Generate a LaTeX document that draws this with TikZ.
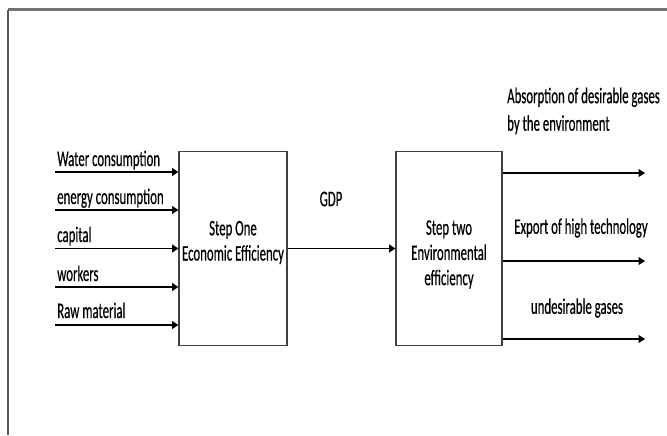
\documentclass[tikz,border=0pt]{standalone}
\usepackage{fontspec}
\setmainfont{Carlito}[FakeStretch=0.575, FakeBold=0.4]
\usetikzlibrary{positioning,arrows.meta,calc}

\begin{document}
\begin{tikzpicture}[x=0.03cm, y=-0.03cm,
  stage/.style={draw=black!75, line width=0.9pt, minimum width=3.24cm, minimum height=5.8cm},
  lbl/.style={inner sep=0pt, align=center, font=\fontsize{19}{21.5}\selectfont},
  arr/.style={line width=1.5pt, -{Triangle[length=1.9mm, width=2.3mm]}}]
\useasboundingbox (0,0) rectangle (667,435);
% page frame
\draw[black!55, line width=2.4pt] (8,9.5) -- (667,9.5);
\draw[black!65, line width=1.1pt] (8,9.5) -- (8,435);
% the two stages
\node[stage] (s1) at (233,248.5) {};
\node[stage, minimum width=3.18cm] (s2) at (449,248.5) {};
\node[lbl] (t1) at ($(s1.center)+(0,-6)$) {Step One\\Economic Efficiency};
\node[lbl] (t2) at ($(s2.center)+(0,6)$) {Step two\\Environmental\\efficiency};
% inputs
\coordinate (i1) at (55,172); \coordinate (i2) at (55,210); \coordinate (i3) at (55,248.5);
\coordinate (i4) at (55,287); \coordinate (i5) at (55,325);
\draw[arr] (i1) -- (i1 -| s1.west); \draw[arr] (i2) -- (i2 -| s1.west);
\draw[arr] (i3) -- (i3 -| s1.west); \draw[arr] (i4) -- (i4 -| s1.west);
\draw[arr] (i5) -- (i5 -| s1.west);
\node[lbl, anchor=base west] (l1) at (57,166) {Water consumption};
\node[lbl, anchor=base west] (l2) at (57,204) {energy consumption};
\node[lbl, anchor=base west] (l3) at (57,242) {capital};
\node[lbl, anchor=base west] (l4) at (57,281) {workers};
\node[lbl, anchor=base west] (l5) at (57,318) {Raw material};
% GDP
\draw[arr] (s1.east) -- (s2.west);
\node[lbl] (gdp) at (331,199) {GDP};
% outputs
\coordinate (o1) at (645,173); \coordinate (o2) at (645,261); \coordinate (o3) at (645,339);
\draw[arr] (o1 -| s2.east) -- (o1); \draw[arr] (o2 -| s2.east) -- (o2);
\draw[arr] (o3 -| s2.east) -- (o3);
\node[lbl, align=left, anchor=west] (a1) at (507,111) {Absorption of desirable gases\\[2pt]by the environment};
\node[lbl] (a2) at (581,228) {Export of high technology};
\node[lbl] (a3) at (577,308) {undesirable gases};
\end{tikzpicture}
\end{document}
